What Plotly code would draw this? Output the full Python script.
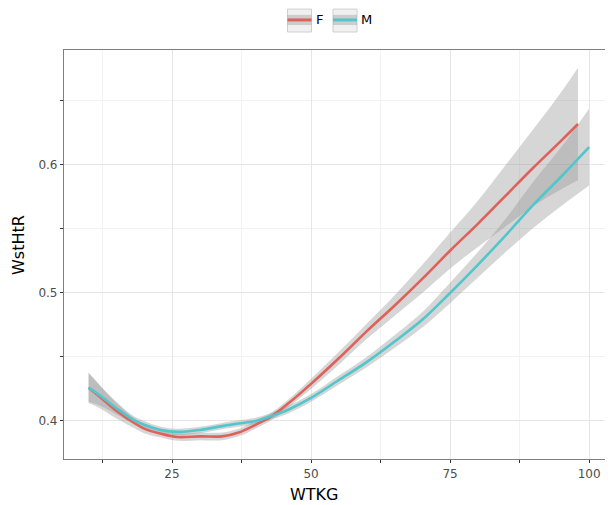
import plotly.graph_objects as go

# smoothed WstHtR vs WTKG, by sex
x_f = [10, 12, 15, 18, 20, 23, 26, 30, 34, 37, 40, 43, 46, 50, 55, 60, 65, 70, 75, 80, 85, 90, 95, 98]
y_f = [0.426, 0.419, 0.408, 0.399, 0.394, 0.390, 0.3875, 0.388, 0.388, 0.391, 0.397, 0.404, 0.414, 0.429,
       0.449, 0.470, 0.490, 0.511, 0.533, 0.554, 0.576, 0.598, 0.619, 0.632]
se_f = [0.012, 0.009, 0.006, 0.004, 0.0035, 0.003, 0.003, 0.003, 0.003, 0.003, 0.003, 0.003, 0.003, 0.004,
        0.005, 0.006, 0.008, 0.011, 0.014, 0.018, 0.024, 0.030, 0.038, 0.044]

x_m = [10, 12, 15, 18, 20, 23, 26, 30, 34, 37, 40, 43, 46, 50, 55, 60, 65, 70, 75, 80, 85, 90, 95, 100]
y_m = [0.426, 0.420, 0.410, 0.401, 0.397, 0.393, 0.3915, 0.393, 0.396, 0.398, 0.400, 0.404, 0.409, 0.418,
       0.432, 0.446, 0.462, 0.479, 0.500, 0.522, 0.545, 0.569, 0.591, 0.614]
se_m = [0.011, 0.008, 0.005, 0.003, 0.003, 0.0025, 0.0025, 0.0025, 0.0025, 0.0025, 0.0025, 0.0025, 0.003, 0.003,
        0.0035, 0.004, 0.005, 0.006, 0.008, 0.010, 0.013, 0.018, 0.023, 0.030]

groups = [("F", x_f, y_f, se_f, "#e0605a"), ("M", x_m, y_m, se_m, "#52c6cd")]

fig = go.Figure()

# confidence bands
for name, xs, ys, se, col in groups:
    upper = [y + s for y, s in zip(ys, se)]
    lower = [y - s for y, s in zip(ys, se)]
    fig.add_trace(go.Scatter(x=xs, y=lower, mode="lines", line=dict(width=0, shape="spline"),
                             showlegend=False, hoverinfo="skip"))
    fig.add_trace(go.Scatter(x=xs, y=upper, mode="lines", line=dict(width=0, shape="spline"),
                             fill="tonexty", fillcolor="rgba(153,153,153,0.4)",
                             showlegend=False, hoverinfo="skip"))

# smooth lines
for name, xs, ys, se, col in groups:
    fig.add_trace(go.Scatter(x=xs, y=ys, mode="lines", name=name, showlegend=False,
                             line=dict(color=col, width=2.6, shape="spline")))

axis_common = dict(showline=True, linecolor="#7f7f7f", linewidth=1.2, ticks="outside", ticklen=3,
                   tickcolor="#333333", tickfont=dict(size=12, color="#4d4d4d"),
                   gridcolor="#e6e6e6", gridwidth=1, zeroline=False, automargin=False)

fig.update_xaxes(**axis_common, range=[5.58, 104.3], tick0=0, dtick=25, mirror=True,
                 minor=dict(dtick=12.5, tick0=0, ticks="outside", ticklen=3, tickcolor="#333333",
                            showgrid=True, gridcolor="#f2f2f2"))
fig.update_yaxes(**axis_common, range=[0.3703, 0.6898], tick0=0, dtick=0.1, tickformat=".1f",
                 minor=dict(dtick=0.05, tick0=0, ticks="outside", ticklen=3, tickcolor="#333333",
                            showgrid=True, gridcolor="#f2f2f2"))

# axis titles as annotations so they sit where the reference has them
fig.add_annotation(text="WTKG", xref="paper", yref="paper", x=0.455, y=-0.088,
                   showarrow=False, font=dict(size=16, color="black"), yanchor="middle")
fig.add_annotation(text="WstHtR", xref="paper", yref="paper", x=-0.084, y=0.523, textangle=-90,
                   showarrow=False, font=dict(size=16, color="black"), xanchor="center")

# ggplot-like legend keys (grey box + band + line) drawn by hand
key_x = [(0.4071, 0.4508), (0.4900, 0.5337)]
label_x = [0.4663, 0.5519]
for (name, xs, ys, se, col), (x0, x1), lx in zip(groups, key_x, label_x):
    fig.add_shape(type="rect", xref="paper", yref="paper", x0=x0, x1=x1, y0=1.044, y1=1.100,
                  fillcolor="#f0f0f0", line=dict(color="#cfcfcf", width=1))
    fig.add_shape(type="rect", xref="paper", yref="paper", x0=x0, x1=x1, y0=1.061, y1=1.086,
                  fillcolor="rgba(153,153,153,0.4)", line=dict(width=0))
    fig.add_shape(type="line", xref="paper", yref="paper", x0=x0, x1=x1, y0=1.0735, y1=1.0735,
                  line=dict(color=col, width=3))
    fig.add_annotation(text=name, xref="paper", yref="paper", x=lx, y=1.0735, showarrow=False,
                       font=dict(size=13, color="black"), xanchor="center", yanchor="middle")

# page body has an 8px margin, so the figure is shrunk by that much
fig.update_layout(
    width=605, height=497,
    margin=dict(l=56, r=0, t=42, b=46, autoexpand=False),
    plot_bgcolor="white", paper_bgcolor="white",
    font=dict(family="DejaVu Sans"),
    showlegend=False,
)

fig.write_html("out.html")
